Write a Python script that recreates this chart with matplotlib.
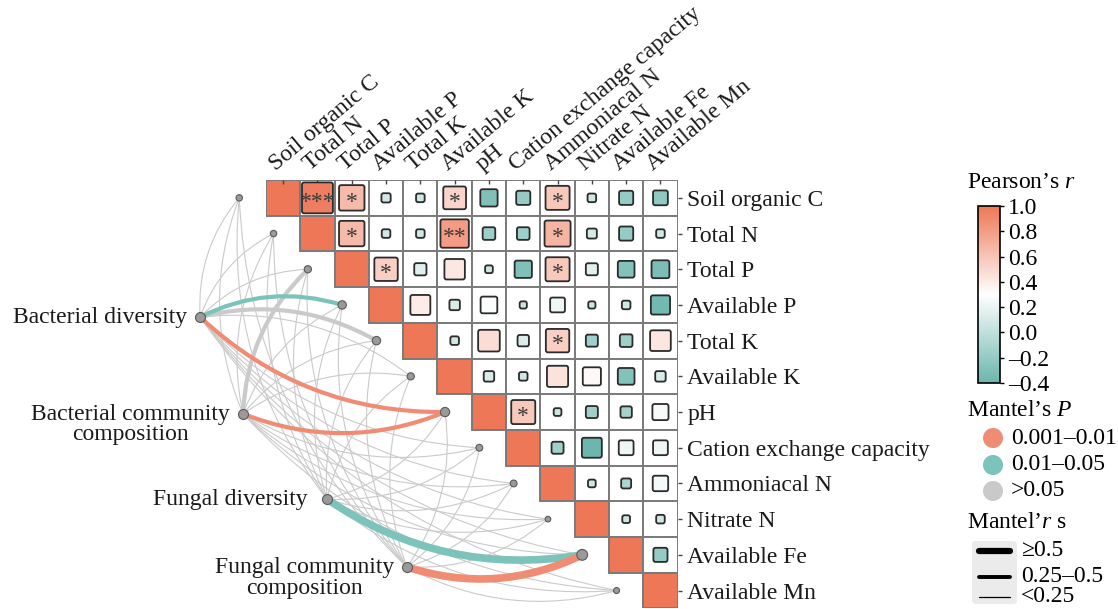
import numpy as np
import matplotlib.pyplot as plt
import matplotlib.transforms as mtransforms
from matplotlib.colors import LinearSegmentedColormap, Normalize
from matplotlib.cm import ScalarMappable
from matplotlib.patches import Rectangle, FancyBboxPatch, PathPatch, Circle
from matplotlib.path import Path

plt.rcParams['font.family'] = ['Liberation Serif', 'DejaVu Serif']
plt.rcParams['mathtext.fontset'] = 'custom'
plt.rcParams['mathtext.rm'] = 'Liberation Serif'
plt.rcParams['mathtext.it'] = 'Liberation Serif:italic'

# soil properties (rows / columns of the correlation matrix)
soil_vars = ['Soil organic C', 'Total N', 'Total P', 'Available P', 'Total K',
             'Available K', 'pH', 'Cation exchange capacity', 'Ammoniacal N',
             'Nitrate N', 'Available Fe', 'Available Mn']

# Pearson's r, upper triangle, row i holds columns i+1 .. 11
pearson_upper = [
    [0.96, 0.65, 0.086, 0.074, 0.52, -0.30, -0.20, 0.58, 0.074, -0.20, -0.22],
    [0.65, 0.074, 0.074, 0.81, -0.16, -0.16, 0.68, 0.10, -0.20, 0.074],
    [0.55, 0.15, 0.42, 0.06, -0.30, 0.58, 0.145, -0.28, -0.32],
    [0.40, 0.11, 0.28, 0.052, 0.22, 0.052, 0.074, -0.37],
    [0.074, 0.47, 0.13, 0.55, -0.145, -0.16, 0.43],
    [0.11, 0.074, 0.45, 0.33, -0.28, 0.11],
    [0.58, 0.06, -0.145, -0.13, 0.26],
    [-0.145, -0.40, 0.22, 0.22],
    [0.06, -0.10, 0.24],
    [0.06, 0.074],
    [-0.20],
    [],
]

# significance marks (row, col, label)
sig_marks = [(0, 1, '***'), (0, 2, '*'), (0, 5, '*'), (0, 8, '*'),
             (1, 2, '*'), (1, 5, '**'), (1, 8, '*'),
             (2, 3, '*'), (2, 8, '*'), (4, 8, '*'), (6, 7, '*')]

# microbial groups and their Mantel statistics against each soil property
groups = ['Bacterial diversity', 'Bacterial community\ncomposition',
          'Fungal diversity', 'Fungal community\ncomposition']
mantel_r = [
    [0.12, 0.10, 0.15, 0.31, 0.28, 0.09, 0.36, 0.08, 0.11, 0.07, 0.14, 0.06],
    [0.09, 0.13, 0.27, 0.11, 0.08, 0.12, 0.33, 0.10, 0.07, 0.09, 0.13, 0.05],
    [0.07, 0.06, 0.10, 0.08, 0.12, 0.09, 0.11, 0.06, 0.13, 0.08, 0.55, 0.10],
    [0.10, 0.08, 0.06, 0.09, 0.07, 0.14, 0.12, 0.11, 0.08, 0.10, 0.52, 0.09],
]
mantel_p = [
    [0.31, 0.42, 0.22, 0.03, 0.07, 0.55, 0.006, 0.61, 0.38, 0.72, 0.27, 0.66],
    [0.45, 0.29, 0.08, 0.36, 0.58, 0.33, 0.004, 0.41, 0.69, 0.52, 0.30, 0.77],
    [0.63, 0.71, 0.40, 0.57, 0.26, 0.48, 0.35, 0.74, 0.21, 0.50, 0.02, 0.44],
    [0.39, 0.55, 0.68, 0.47, 0.62, 0.19, 0.28, 0.34, 0.53, 0.43, 0.005, 0.51],
]

# layout (grid units) of the group nodes and label gaps (pixels)
group_xy = [(-1.92, 3.84), (-0.67, 6.55), (1.78, 8.94), (4.11, 10.84)]
label_gap = [13, 13, 19, 13]
env_node_radius = [3.2, 3.2, 3.6, 4.2, 4.2, 3.6, 4.6, 3.4, 3.4, 2.8, 5.4, 3.0]

c_red = '#EE7757'
c_teal = '#6BB6AE'
cmap = LinearSegmentedColormap.from_list('pr', [c_teal, '#FFFFFF', c_red])
norm = Normalize(-0.4, 1.0)
edge_red, edge_teal, edge_grey = '#F08B74', '#7CC4BB', '#CACACA'

W, H = 1118, 609
fig = plt.figure(figsize=(W / 100, H / 100), dpi=100)

gx0, gy0, cw, ch = 266, 180, 34.3, 35.7
n = len(soil_vars)
ax = fig.add_axes([gx0 / W, 1 - (gy0 + n * ch) / H, n * cw / W, n * ch / H])
ax.set_xlim(0, n)
ax.set_ylim(n, 0)
ax.patch.set_alpha(0)
for s in ax.spines.values():
    s.set_visible(False)

# cells: full tile on the diagonal, square sized by |r| above it
for i in range(n):
    for j in range(i, n):
        fc = c_red if i == j else 'white'
        ax.add_patch(Rectangle((j, i), 1, 1, fc=fc, ec='#7A7A7A', lw=1.4, zorder=1))
    for k, r in enumerate(pearson_upper[i]):
        j = i + 1 + k
        side = 0.92 * np.sqrt(abs(r)) * min(cw, ch)
        sx, sy = side / cw, side / ch
        ax.add_patch(FancyBboxPatch((j + 0.5 - sx / 2, i + 0.5 - sy / 2), sx, sy,
                                    boxstyle='round,pad=0,rounding_size=0.06',
                                    fc=cmap(norm(r)), ec='#2B2B2B', lw=1.3, zorder=3))
for i, j, lab in sig_marks:
    ax.text(j + 0.5, i + 0.62, lab, ha='center', va='center', fontsize=17,
            color='#3A3A3A', zorder=4)

# axes ticks and labels
ax.set_xticks(np.arange(n) + 0.5)
ax.set_yticks(np.arange(n) + 0.5)
ax.set_xticklabels([])
ax.yaxis.tick_right()
ax.set_yticklabels(soil_vars, fontsize=17, color='#1A1A1A')
ax.tick_params(axis='x', top=True, bottom=False, labelbottom=False, direction='in',
               length=3, width=1, color='#444444')
ax.tick_params(axis='y', right=True, left=False, direction='out', length=3,
               width=1, color='#444444', pad=4)
top_tr = mtransforms.offset_copy(ax.transData, fig, x=-7, y=9, units='dots')
for j, name in enumerate(soil_vars):
    ax.text(j + 0.5, 0, name, rotation=40, rotation_mode='anchor', ha='left',
            va='baseline', fontsize=17, color='#1A1A1A', transform=top_tr)

# Mantel links
def arc_path(p0, p1, sign, k=0.2):
    x0, y0 = p0[0] * cw, p0[1] * ch
    x1, y1 = p1[0] * cw, p1[1] * ch
    dx, dy = x1 - x0, y1 - y0
    cx = (x0 + x1) / 2 + sign * k * dy
    cy = (y0 + y1) / 2 - sign * k * dx
    return Path([(x0 / cw, y0 / ch), (cx / cw, cy / ch), (x1 / cw, y1 / ch)],
                [Path.MOVETO, Path.CURVE3, Path.CURVE3])

env_xy = [(i - 0.78, i + 0.5) for i in range(n)]
for g, gxy in enumerate(group_xy):
    for i in range(n):
        r, p = mantel_r[g][i], mantel_p[g][i]
        if p < 0.01:
            col, z = edge_red, 2.2
        elif p < 0.05:
            col, z = edge_teal, 2.2
        else:
            col, z = edge_grey, 2.0 if r >= 0.25 else 1.8
        lw = 5.5 if r >= 0.5 else (3.0 if r >= 0.25 else 0.8)
        sign = 1 if i < n / 2 else -1
        ax.add_patch(PathPatch(arc_path(gxy, env_xy[i], sign), fill=False, ec=col,
                               lw=lw, zorder=z, clip_on=False))

ax.scatter([p[0] for p in env_xy], [p[1] for p in env_xy],
           s=[(2 * rr * 0.72) ** 2 for rr in env_node_radius], c='#9A9A9A',
           edgecolors='#5A5A5A', linewidths=0.8, zorder=5, clip_on=False)
ax.scatter([p[0] for p in group_xy], [p[1] for p in group_xy], s=(2 * 5 * 0.72) ** 2,
           c='#9A9A9A', edgecolors='#5A5A5A', linewidths=0.8, zorder=5, clip_on=False)
for (x, y), name, gap in zip(group_xy, groups, label_gap):
    dy = -11 if '\n' in name else 0
    tr = mtransforms.offset_copy(ax.transData, fig, x=-gap, y=dy, units='dots')
    ax.text(x, y, name, ha='right', va='center', multialignment='center',
            fontsize=17, linespacing=0.95, color='#1A1A1A', transform=tr)

# legends, drawn in pixel coordinates
lax = fig.add_axes([0, 0, 1, 1])
lax.set_xlim(0, W)
lax.set_ylim(H, 0)
lax.axis('off')
lax.patch.set_alpha(0)

lax.text(967, 183, 'Pearson’s $r$', fontsize=17, va='center', ha='left')
cax = fig.add_axes([978 / W, 1 - 383 / H, 22 / W, 177 / H])
cb = fig.colorbar(ScalarMappable(norm=norm, cmap=cmap), cax=cax,
                  ticks=[1.0, 0.8, 0.6, 0.4, 0.2, 0.0, -0.2, -0.4])
cb.ax.set_yticklabels([f'{t:.1f}'.replace('-', '–') for t in cb.get_ticks()], fontsize=17)
cb.ax.tick_params(length=3, width=1, pad=3)
cb.outline.set_linewidth(1.2)

lax.text(967, 410, 'Mantel’s $P$', fontsize=17, va='center', ha='left')
for y, col, lab in [(438, edge_red, '0.001–0.01'), (465, edge_teal, '0.01–0.05'),
                    (491, '#C9C9C9', '>0.05')]:
    lax.add_patch(Circle((993, y), 10, fc=col, ec='none'))
    lax.text(1011, y, lab, fontsize=17, va='center', ha='left')

lax.text(967, 522, 'Mantel’$r$ s', fontsize=17, va='center', ha='left')
lax.add_patch(FancyBboxPatch((972, 541), 45, 63, boxstyle='round,pad=0,rounding_size=4',
                             fc='#EBEBEB', ec='none'))
for y, lw, lab in [(551, 4.5, '≥0.5'), (577, 2.8, '0.25–0.5'), (597, 0.9, '<0.25')]:
    lax.plot([979, 1010], [y, y], color='black', lw=lw, solid_capstyle='round')
    lax.text(1021, y, lab, fontsize=17, va='center', ha='left')

fig.savefig('out.png', dpi=100)
